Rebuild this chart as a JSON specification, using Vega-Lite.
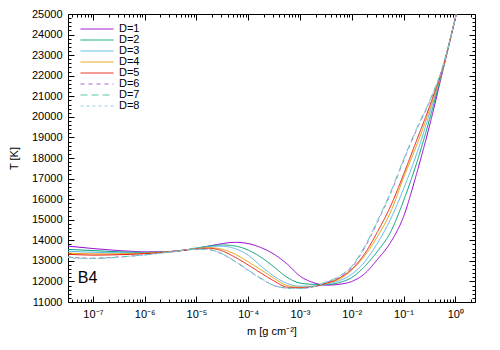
{
  "$schema": "https://vega.github.io/schema/vega-lite/v6.json",
  "width": 407,
  "height": 288,
  "autosize": {"type": "none"},
  "padding": {"left": 68, "top": 14, "right": 25, "bottom": 48},
  "background": "white",
  "config": {
    "view": {"stroke": "black", "strokeWidth": 1},
    "font": "Liberation Sans",
    "axis": {"domain": false, "grid": false, "tickColor": "black", "tickWidth": 1, "labelColor": "black", "labelFont": "Liberation Sans", "labelFontSize": 11, "titleFont": "Liberation Sans", "titleFontSize": 11, "titleFontWeight": "normal", "titleColor": "black"}
  },
  "datasets": {
    "note": [{"label": "B4", "m": 5.1e-8, "T": 11930}],
    "curves": [
      {"D":"D=1","m":3.162e-8,"T":13720},{"D":"D=1","m":5.623e-8,"T":13660},{"D":"D=1","m":1e-7,"T":13600},{"D":"D=1","m":1.778e-7,"T":13550},{"D":"D=1","m":3.162e-7,"T":13500},{"D":"D=1","m":5.623e-7,"T":13465},{"D":"D=1","m":1e-6,"T":13440},{"D":"D=1","m":1.778e-6,"T":13440},{"D":"D=1","m":3.162e-6,"T":13460},{"D":"D=1","m":5.623e-6,"T":13520},{"D":"D=1","m":1e-5,"T":13600},{"D":"D=1","m":1.778e-5,"T":13720},{"D":"D=1","m":3.162e-5,"T":13840},{"D":"D=1","m":5.623e-5,"T":13900},{"D":"D=1","m":1e-4,"T":13840},{"D":"D=1","m":1.778e-4,"T":13640},{"D":"D=1","m":3.162e-4,"T":13320},{"D":"D=1","m":5.623e-4,"T":12850},{"D":"D=1","m":1e-3,"T":12260},{"D":"D=1","m":1.778e-3,"T":11950},{"D":"D=1","m":3.162e-3,"T":11820},{"D":"D=1","m":5.623e-3,"T":11860},{"D":"D=1","m":0.01,"T":12000},{"D":"D=1","m":0.01778,"T":12380},{"D":"D=1","m":0.03162,"T":13080},{"D":"D=1","m":0.05623,"T":13900},{"D":"D=1","m":0.1,"T":15150},{"D":"D=1","m":0.1778,"T":17220},{"D":"D=1","m":0.3162,"T":19550},{"D":"D=1","m":0.5623,"T":22150},{"D":"D=1","m":1,"T":24790},{"D":"D=1","m":1.778,"T":27500},
      {"D":"D=2","m":3.162e-8,"T":13560},{"D":"D=2","m":5.623e-8,"T":13530},{"D":"D=2","m":1e-7,"T":13500},{"D":"D=2","m":1.778e-7,"T":13470},{"D":"D=2","m":3.162e-7,"T":13440},{"D":"D=2","m":5.623e-7,"T":13420},{"D":"D=2","m":1e-6,"T":13410},{"D":"D=2","m":1.778e-6,"T":13420},{"D":"D=2","m":3.162e-6,"T":13450},{"D":"D=2","m":5.623e-6,"T":13520},{"D":"D=2","m":1e-5,"T":13620},{"D":"D=2","m":1.778e-5,"T":13720},{"D":"D=2","m":3.162e-5,"T":13770},{"D":"D=2","m":5.623e-5,"T":13720},{"D":"D=2","m":1e-4,"T":13520},{"D":"D=2","m":1.778e-4,"T":13170},{"D":"D=2","m":3.162e-4,"T":12700},{"D":"D=2","m":5.623e-4,"T":12200},{"D":"D=2","m":1e-3,"T":11920},{"D":"D=2","m":1.778e-3,"T":11860},{"D":"D=2","m":3.162e-3,"T":11850},{"D":"D=2","m":5.623e-3,"T":11940},{"D":"D=2","m":0.01,"T":12190},{"D":"D=2","m":0.01778,"T":12730},{"D":"D=2","m":0.03162,"T":13480},{"D":"D=2","m":0.05623,"T":14400},{"D":"D=2","m":0.1,"T":15920},{"D":"D=2","m":0.1778,"T":17730},{"D":"D=2","m":0.3162,"T":19860},{"D":"D=2","m":0.5623,"T":22210},{"D":"D=2","m":1,"T":24790},{"D":"D=2","m":1.778,"T":27500},
      {"D":"D=3","m":3.162e-8,"T":13470},{"D":"D=3","m":5.623e-8,"T":13440},{"D":"D=3","m":1e-7,"T":13420},{"D":"D=3","m":1.778e-7,"T":13400},{"D":"D=3","m":3.162e-7,"T":13390},{"D":"D=3","m":5.623e-7,"T":13385},{"D":"D=3","m":1e-6,"T":13390},{"D":"D=3","m":1.778e-6,"T":13410},{"D":"D=3","m":3.162e-6,"T":13450},{"D":"D=3","m":5.623e-6,"T":13520},{"D":"D=3","m":1e-5,"T":13620},{"D":"D=3","m":1.778e-5,"T":13700},{"D":"D=3","m":3.162e-5,"T":13710},{"D":"D=3","m":5.623e-5,"T":13590},{"D":"D=3","m":1e-4,"T":13270},{"D":"D=3","m":1.778e-4,"T":12740},{"D":"D=3","m":3.162e-4,"T":12250},{"D":"D=3","m":5.623e-4,"T":11900},{"D":"D=3","m":1e-3,"T":11770},{"D":"D=3","m":1.778e-3,"T":11770},{"D":"D=3","m":3.162e-3,"T":11860},{"D":"D=3","m":5.623e-3,"T":12030},{"D":"D=3","m":0.01,"T":12350},{"D":"D=3","m":0.01778,"T":12960},{"D":"D=3","m":0.03162,"T":13880},{"D":"D=3","m":0.05623,"T":15030},{"D":"D=3","m":0.1,"T":16500},{"D":"D=3","m":0.1778,"T":18180},{"D":"D=3","m":0.3162,"T":20140},{"D":"D=3","m":0.5623,"T":22250},{"D":"D=3","m":1,"T":24790},{"D":"D=3","m":1.778,"T":27500},
      {"D":"D=4","m":3.162e-8,"T":13380},{"D":"D=4","m":5.623e-8,"T":13355},{"D":"D=4","m":1e-7,"T":13340},{"D":"D=4","m":1.778e-7,"T":13335},{"D":"D=4","m":3.162e-7,"T":13340},{"D":"D=4","m":5.623e-7,"T":13350},{"D":"D=4","m":1e-6,"T":13370},{"D":"D=4","m":1.778e-6,"T":13400},{"D":"D=4","m":3.162e-6,"T":13450},{"D":"D=4","m":5.623e-6,"T":13520},{"D":"D=4","m":1e-5,"T":13600},{"D":"D=4","m":1.778e-5,"T":13640},{"D":"D=4","m":3.162e-5,"T":13560},{"D":"D=4","m":5.623e-5,"T":13320},{"D":"D=4","m":1e-4,"T":12950},{"D":"D=4","m":1.778e-4,"T":12560},{"D":"D=4","m":3.162e-4,"T":12150},{"D":"D=4","m":5.623e-4,"T":11800},{"D":"D=4","m":1e-3,"T":11715},{"D":"D=4","m":1.778e-3,"T":11760},{"D":"D=4","m":3.162e-3,"T":11900},{"D":"D=4","m":5.623e-3,"T":12100},{"D":"D=4","m":0.01,"T":12550},{"D":"D=4","m":0.01778,"T":13250},{"D":"D=4","m":0.03162,"T":14200},{"D":"D=4","m":0.05623,"T":15370},{"D":"D=4","m":0.1,"T":17040},{"D":"D=4","m":0.1778,"T":18600},{"D":"D=4","m":0.3162,"T":20330},{"D":"D=4","m":0.5623,"T":22280},{"D":"D=4","m":1,"T":24800},{"D":"D=4","m":1.778,"T":27500},
      {"D":"D=5","m":3.162e-8,"T":13320},{"D":"D=5","m":5.623e-8,"T":13295},{"D":"D=5","m":1e-7,"T":13280},{"D":"D=5","m":1.778e-7,"T":13285},{"D":"D=5","m":3.162e-7,"T":13300},{"D":"D=5","m":5.623e-7,"T":13320},{"D":"D=5","m":1e-6,"T":13350},{"D":"D=5","m":1.778e-6,"T":13390},{"D":"D=5","m":3.162e-6,"T":13440},{"D":"D=5","m":5.623e-6,"T":13510},{"D":"D=5","m":1e-5,"T":13580},{"D":"D=5","m":1.778e-5,"T":13610},{"D":"D=5","m":3.162e-5,"T":13480},{"D":"D=5","m":5.623e-5,"T":13170},{"D":"D=5","m":1e-4,"T":12800},{"D":"D=5","m":1.778e-4,"T":12400},{"D":"D=5","m":3.162e-4,"T":12020},{"D":"D=5","m":5.623e-4,"T":11720},{"D":"D=5","m":1e-3,"T":11690},{"D":"D=5","m":1.778e-3,"T":11740},{"D":"D=5","m":3.162e-3,"T":11910},{"D":"D=5","m":5.623e-3,"T":12150},{"D":"D=5","m":0.01,"T":12600},{"D":"D=5","m":0.01778,"T":13350},{"D":"D=5","m":0.03162,"T":14430},{"D":"D=5","m":0.05623,"T":15660},{"D":"D=5","m":0.1,"T":17200},{"D":"D=5","m":0.1778,"T":18840},{"D":"D=5","m":0.3162,"T":20490},{"D":"D=5","m":0.5623,"T":22330},{"D":"D=5","m":1,"T":24800},{"D":"D=5","m":1.778,"T":27500},
      {"D":"D=6","m":3.162e-8,"T":13200},{"D":"D=6","m":5.623e-8,"T":13140},{"D":"D=6","m":1e-7,"T":13130},{"D":"D=6","m":1.778e-7,"T":13150},{"D":"D=6","m":3.162e-7,"T":13190},{"D":"D=6","m":5.623e-7,"T":13240},{"D":"D=6","m":1e-6,"T":13290},{"D":"D=6","m":1.778e-6,"T":13360},{"D":"D=6","m":3.162e-6,"T":13430},{"D":"D=6","m":5.623e-6,"T":13510},{"D":"D=6","m":1e-5,"T":13570},{"D":"D=6","m":1.778e-5,"T":13540},{"D":"D=6","m":3.162e-5,"T":13330},{"D":"D=6","m":5.623e-5,"T":12960},{"D":"D=6","m":1e-4,"T":12540},{"D":"D=6","m":1.778e-4,"T":12130},{"D":"D=6","m":3.162e-4,"T":11800},{"D":"D=6","m":5.623e-4,"T":11680},{"D":"D=6","m":1e-3,"T":11660},{"D":"D=6","m":1.778e-3,"T":11740},{"D":"D=6","m":3.162e-3,"T":11950},{"D":"D=6","m":5.623e-3,"T":12190},{"D":"D=6","m":0.01,"T":12680},{"D":"D=6","m":0.01778,"T":13640},{"D":"D=6","m":0.03162,"T":14900},{"D":"D=6","m":0.05623,"T":16270},{"D":"D=6","m":0.1,"T":17860},{"D":"D=6","m":0.1778,"T":19360},{"D":"D=6","m":0.3162,"T":20710},{"D":"D=6","m":0.5623,"T":22360},{"D":"D=6","m":1,"T":24800},{"D":"D=6","m":1.778,"T":27500},
      {"D":"D=7","m":3.162e-8,"T":13190},{"D":"D=7","m":5.623e-8,"T":13130},{"D":"D=7","m":1e-7,"T":13120},{"D":"D=7","m":1.778e-7,"T":13140},{"D":"D=7","m":3.162e-7,"T":13180},{"D":"D=7","m":5.623e-7,"T":13235},{"D":"D=7","m":1e-6,"T":13290},{"D":"D=7","m":1.778e-6,"T":13360},{"D":"D=7","m":3.162e-6,"T":13430},{"D":"D=7","m":5.623e-6,"T":13510},{"D":"D=7","m":1e-5,"T":13570},{"D":"D=7","m":1.778e-5,"T":13545},{"D":"D=7","m":3.162e-5,"T":13340},{"D":"D=7","m":5.623e-5,"T":12970},{"D":"D=7","m":1e-4,"T":12550},{"D":"D=7","m":1.778e-4,"T":12140},{"D":"D=7","m":3.162e-4,"T":11800},{"D":"D=7","m":5.623e-4,"T":11675},{"D":"D=7","m":1e-3,"T":11655},{"D":"D=7","m":1.778e-3,"T":11750},{"D":"D=7","m":3.162e-3,"T":11970},{"D":"D=7","m":5.623e-3,"T":12240},{"D":"D=7","m":0.01,"T":12740},{"D":"D=7","m":0.01778,"T":13710},{"D":"D=7","m":0.03162,"T":14970},{"D":"D=7","m":0.05623,"T":16340},{"D":"D=7","m":0.1,"T":17930},{"D":"D=7","m":0.1778,"T":19420},{"D":"D=7","m":0.3162,"T":20760},{"D":"D=7","m":0.5623,"T":22390},{"D":"D=7","m":1,"T":24800},{"D":"D=7","m":1.778,"T":27500},
      {"D":"D=8","m":3.162e-8,"T":13170},{"D":"D=8","m":5.623e-8,"T":13110},{"D":"D=8","m":1e-7,"T":13105},{"D":"D=8","m":1.778e-7,"T":13130},{"D":"D=8","m":3.162e-7,"T":13175},{"D":"D=8","m":5.623e-7,"T":13230},{"D":"D=8","m":1e-6,"T":13285},{"D":"D=8","m":1.778e-6,"T":13360},{"D":"D=8","m":3.162e-6,"T":13430},{"D":"D=8","m":5.623e-6,"T":13510},{"D":"D=8","m":1e-5,"T":13570},{"D":"D=8","m":1.778e-5,"T":13545},{"D":"D=8","m":3.162e-5,"T":13335},{"D":"D=8","m":5.623e-5,"T":12965},{"D":"D=8","m":1e-4,"T":12545},{"D":"D=8","m":1.778e-4,"T":12135},{"D":"D=8","m":3.162e-4,"T":11795},{"D":"D=8","m":5.623e-4,"T":11670},{"D":"D=8","m":1e-3,"T":11650},{"D":"D=8","m":1.778e-3,"T":11745},{"D":"D=8","m":3.162e-3,"T":11960},{"D":"D=8","m":5.623e-3,"T":12220},{"D":"D=8","m":0.01,"T":12720},{"D":"D=8","m":0.01778,"T":13680},{"D":"D=8","m":0.03162,"T":14940},{"D":"D=8","m":0.05623,"T":16310},{"D":"D=8","m":0.1,"T":17900},{"D":"D=8","m":0.1778,"T":19390},{"D":"D=8","m":0.3162,"T":20740},{"D":"D=8","m":0.5623,"T":22380},{"D":"D=8","m":1,"T":24800},{"D":"D=8","m":1.778,"T":27500}
    ]
  },
  "resolve": {"axis": {"x": "independent", "y": "independent"}},
  "layer": [
    {
      "data": {"name": "curves"},
      "mark": {"type": "line", "interpolate": "monotone", "clip": true, "strokeWidth": 1},
      "encoding": {
        "x": {"field": "m", "type": "quantitative", "scale": {"type": "log", "domain": [3.3e-8, 2.4], "nice": false},
              "axis": {"orient": "bottom", "values": [1e-7, 1e-6, 1e-5, 1e-4, 1e-3, 1e-2, 1e-1, 1], "tickSize": -6, "labelPadding": 12,
                       "labelExpr": "['10⁻⁷','10⁻⁶','10⁻⁵','10⁻⁴','10⁻³','10⁻²','10⁻¹','10⁰'][round(log(datum.value)/LN10)+7]",
                       "title": "m [g cm⁻²]", "titlePadding": 6}},
        "y": {"field": "T", "type": "quantitative", "scale": {"domain": [11000, 25000], "nice": false, "zero": false},
              "axis": {"orient": "left", "values": [11000,12000,13000,14000,15000,16000,17000,18000,19000,20000,21000,22000,23000,24000,25000], "tickSize": -6, "labelPadding": 12, "format": "d", "title": "T [K]", "titlePadding": 12}},
        "color": {"field": "D", "type": "nominal",
                  "scale": {"domain": ["D=1","D=2","D=3","D=4","D=5","D=6","D=7","D=8"], "range": ["#9400d3","#009e73","#56b4e9","#e69f00","#e51e10","#b45fe0","#5cc4a4","#95d0ef"]},
                  "legend": {"title": null, "orient": "none", "legendX": 23, "legendY": 9, "symbolType": "M-3,0H3", "symbolSize": 121, "symbolStrokeWidth": 1, "labelFontSize": 11, "labelFont": "Liberation Sans", "labelColor": "black", "rowPadding": 0, "labelOffset": 16, "padding": 0}},
        "strokeDash": {"field": "D", "type": "nominal",
                  "scale": {"domain": ["D=1","D=2","D=3","D=4","D=5","D=6","D=7","D=8"], "range": [[1,0],[1,0],[1,0],[1,0],[1,0],[4,4],[7,4],[3,3]]},
                  "legend": {"title": null, "orient": "none", "legendX": 23, "legendY": 9, "symbolType": "M-3,0H3", "symbolSize": 121, "symbolStrokeWidth": 1, "labelFontSize": 11, "labelFont": "Liberation Sans", "labelColor": "black", "rowPadding": 0, "labelOffset": 16, "padding": 0}}
      }
    },
    {
      "data": {"name": "note"},
      "mark": {"type": "point", "opacity": 0},
      "encoding": {
        "x": {"field": "m", "type": "quantitative", "scale": {"type": "log", "domain": [3.3e-8, 2.4], "nice": false},
              "axis": {"orient": "bottom", "values": [4e-8,5e-8,6e-8,7e-8,8e-8,9e-8,2e-7,3e-7,4e-7,5e-7,6e-7,7e-7,8e-7,9e-7,2e-6,3e-6,4e-6,5e-6,6e-6,7e-6,8e-6,9e-6,2e-5,3e-5,4e-5,5e-5,6e-5,7e-5,8e-5,9e-5,2e-4,3e-4,4e-4,5e-4,6e-4,7e-4,8e-4,9e-4,0.002,0.003,0.004,0.005,0.006,0.007,0.008,0.009,0.02,0.03,0.04,0.05,0.06,0.07,0.08,0.09,0.2,0.3,0.4,0.5,0.6,0.7,0.8,0.9,2], "tickSize": -3, "labels": false, "title": null}},
        "y": {"field": "T", "type": "quantitative", "scale": {"domain": [11000, 25000], "nice": false, "zero": false},
              "axis": {"orient": "left", "values": [11200,11400,11600,11800,12200,12400,12600,12800,13200,13400,13600,13800,14200,14400,14600,14800,15200,15400,15600,15800,16200,16400,16600,16800,17200,17400,17600,17800,18200,18400,18600,18800,19200,19400,19600,19800,20200,20400,20600,20800,21200,21400,21600,21800,22200,22400,22600,22800,23200,23400,23600,23800,24200,24400,24600,24800], "tickSize": -3, "labels": false, "title": null}}
      }
    },
    {
      "data": {"name": "note"},
      "mark": {"type": "point", "opacity": 0},
      "encoding": {
        "x": {"field": "m", "type": "quantitative", "scale": {"type": "log", "domain": [3.3e-8, 2.4], "nice": false},
              "axis": {"orient": "top", "values": [1e-7, 1e-6, 1e-5, 1e-4, 1e-3, 1e-2, 1e-1, 1], "tickSize": -6, "labels": false, "title": null}},
        "y": {"field": "T", "type": "quantitative", "scale": {"domain": [11000, 25000], "nice": false, "zero": false},
              "axis": {"orient": "right", "values": [11000,12000,13000,14000,15000,16000,17000,18000,19000,20000,21000,22000,23000,24000,25000], "tickSize": -6, "labels": false, "title": null}}
      }
    },
    {
      "data": {"name": "note"},
      "mark": {"type": "point", "opacity": 0},
      "encoding": {
        "x": {"field": "m", "type": "quantitative", "scale": {"type": "log", "domain": [3.3e-8, 2.4], "nice": false},
              "axis": {"orient": "top", "values": [4e-8,5e-8,6e-8,7e-8,8e-8,9e-8,2e-7,3e-7,4e-7,5e-7,6e-7,7e-7,8e-7,9e-7,2e-6,3e-6,4e-6,5e-6,6e-6,7e-6,8e-6,9e-6,2e-5,3e-5,4e-5,5e-5,6e-5,7e-5,8e-5,9e-5,2e-4,3e-4,4e-4,5e-4,6e-4,7e-4,8e-4,9e-4,0.002,0.003,0.004,0.005,0.006,0.007,0.008,0.009,0.02,0.03,0.04,0.05,0.06,0.07,0.08,0.09,0.2,0.3,0.4,0.5,0.6,0.7,0.8,0.9,2], "tickSize": -3, "labels": false, "title": null}},
        "y": {"field": "T", "type": "quantitative", "scale": {"domain": [11000, 25000], "nice": false, "zero": false},
              "axis": {"orient": "right", "values": [11200,11400,11600,11800,12200,12400,12600,12800,13200,13400,13600,13800,14200,14400,14600,14800,15200,15400,15600,15800,16200,16400,16600,16800,17200,17400,17600,17800,18200,18400,18600,18800,19200,19400,19600,19800,20200,20400,20600,20800,21200,21400,21600,21800,22200,22400,22600,22800,23200,23400,23600,23800,24200,24400,24600,24800], "tickSize": -3, "labels": false, "title": null}}
      }
    },
    {
      "data": {"name": "note"},
      "mark": {"type": "text", "align": "left", "baseline": "alphabetic", "fontSize": 16, "font": "Liberation Sans", "color": "black"},
      "encoding": {
        "x": {"field": "m", "type": "quantitative", "scale": {"type": "log", "domain": [3.3e-8, 2.4], "nice": false}, "axis": null},
        "y": {"field": "T", "type": "quantitative", "scale": {"domain": [11000, 25000], "nice": false, "zero": false}, "axis": null},
        "text": {"field": "label"}
      }
    }
  ]
}
